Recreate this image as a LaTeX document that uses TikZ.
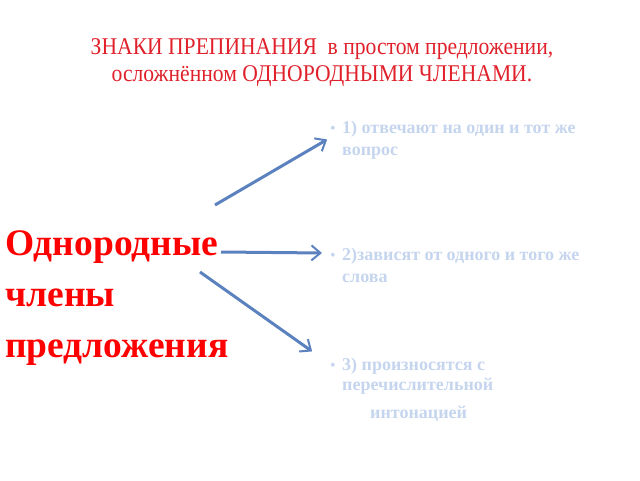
\documentclass[tikz,border=0pt]{standalone}
\usepackage{fontspec}
\setmainfont{Liberation Serif}
\newfontfamily\titlefont[FakeStretch=0.9]{Liberation Serif}
\usetikzlibrary{arrows.meta}
\definecolor{titlered}{HTML}{E0202A}
\definecolor{termred}{HTML}{FF0000}
\definecolor{arrowblue}{HTML}{5B82BE}
\definecolor{itemblue}{HTML}{C5D5EE}

\begin{document}
\begin{tikzpicture}[x=1pt, y=-1pt,
        term/.style={anchor=base west, inner sep=0pt, text=termred,
            font=\fontsize{37.5}{37.5}\selectfont\bfseries},
        item/.style={anchor=base west, inner sep=0pt, text=itemblue,
            font=\fontsize{18}{20}\selectfont\bfseries},
        bul/.style={anchor=base west, inner sep=0pt, text=itemblue,
            font=\fontsize{16}{16}\selectfont},
        link/.style={-{Straight Barb[length=9pt, width=15pt, line width=2pt]},
            line width=3pt, arrowblue, shorten >=1pt}
    ]
        \useasboundingbox (0,0) rectangle (640,480);
        \node[anchor=base, inner sep=0pt, text=titlered, align=center,
            font=\fontsize{24}{27}\titlefont] (Title) at (322,81) {
            ЗНАКИ ПРЕПИНАНИЯ\ \ в простом предложении,\\
            осложнённом ОДНОРОДНЫМИ ЧЛЕНАМИ.
        };
        \node[term] (Homogeneous) at (5,255) {Однородные};
        \node[term] (Members) at (5,306) {члены};
        \node[term] (Sentence) at (5,357) {предложения};
        % bullet items
        \node[bul] (BulletA) at (330,133) {•};
        \node[item] (Question) at (342,133) {1) отвечают на один и тот же};
        \node[item] (QuestionB) at (342,155) {вопрос};
        \node[bul] (BulletB) at (330,260) {•};
        \node[item] (Word) at (342,260) {2)зависят от одного и того же};
        \node[item] (WordB) at (342,282) {слова};
        \node[bul] (BulletC) at (330,370) {•};
        \node[item] (Intonation) at (342,370) {3) произносятся с};
        \node[item] (IntonationB) at (342,390) {перечислительной};
        \node[item] (IntonationC) at (370,418) {интонацией};
        % arrow ends
        \coordinate (StartA) at (215,205);
        \coordinate (EndA) at (328,139);
        \coordinate (StartB) at (221,252);
        \coordinate (EndB) at (323,253);
        \coordinate (StartC) at (200,272);
        \coordinate (EndC) at (313,352);
        \draw[link] (StartA) -- (EndA);
        \draw[link] (StartB) -- (EndB);
        \draw[link] (StartC) -- (EndC);
    \end{tikzpicture}
\end{document}
